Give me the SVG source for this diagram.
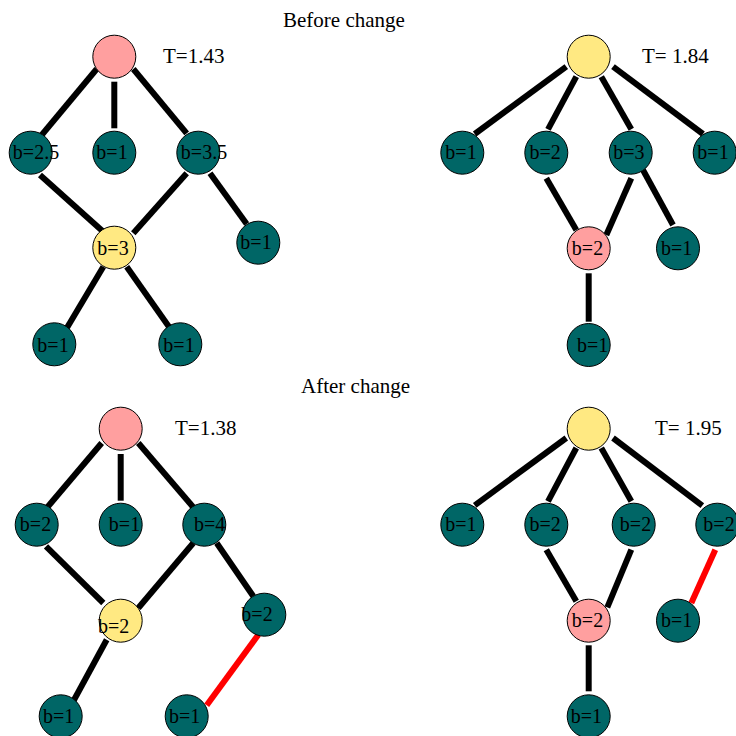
<svg xmlns="http://www.w3.org/2000/svg" width="736" height="736" viewBox="0 0 736 736">
<style>
text{font-family:"Liberation Serif","Times New Roman",serif;fill:#000}
.t{font-size:21px}
.l{font-size:20px;text-anchor:middle}
.n{stroke:#000;stroke-width:1}
.teal{fill:#006666}
.pink{fill:#FF9F9F}
.yel{fill:#FFE982}
.e line{stroke:#000;stroke-width:6}
.e line.r{stroke:#FF0000}
</style>
<rect width="736" height="736" fill="#fff"/>
<text class="t" x="283" y="26.5">Before change</text>
<text class="t" x="301" y="393">After change</text>
<text class="t" x="163" y="62.5">T=1.43</text>
<text class="t" x="642" y="63">T= 1.84</text>
<text class="t" x="175" y="434.5">T=1.38</text>
<text class="t" x="655" y="434.5">T= 1.95</text>
<g id="connectors" class="e">
<line x1="96.7" y1="69" x2="41.7" y2="135"/>
<line x1="114.3" y1="81.7" x2="114.3" y2="128.3"/>
<line x1="133.3" y1="69" x2="186.7" y2="133.3"/>
<line x1="40" y1="175" x2="103.3" y2="231.7"/>
<line x1="186.7" y1="173.3" x2="133.3" y2="233.3"/>
<line x1="210" y1="173.3" x2="246.7" y2="224"/>
<line x1="103.3" y1="266.7" x2="66.7" y2="328.3"/>
<line x1="126.7" y1="266.7" x2="170" y2="328.3"/>
<line x1="566.3" y1="66.7" x2="474.7" y2="134"/>
<line x1="576.3" y1="76.7" x2="548" y2="129.3"/>
<line x1="601.3" y1="76.7" x2="631.3" y2="129.3"/>
<line x1="613" y1="66.7" x2="703" y2="134"/>
<line x1="546.3" y1="178.3" x2="576.3" y2="230"/>
<line x1="631.3" y1="178.3" x2="606.3" y2="235"/>
<line x1="643" y1="170" x2="673" y2="225"/>
<line x1="588.7" y1="273.3" x2="588.7" y2="321.7"/>
<line x1="101.7" y1="443" x2="46.7" y2="508"/>
<line x1="120.7" y1="454" x2="120.7" y2="500.7"/>
<line x1="138.3" y1="443" x2="193.3" y2="507.3"/>
<line x1="46" y1="546.3" x2="103.3" y2="603"/>
<line x1="193.3" y1="543" x2="138.3" y2="608"/>
<line x1="216.7" y1="543" x2="253.3" y2="596.3"/>
<line x1="106.7" y1="639.7" x2="73.3" y2="701.3"/>
<line class="r" x1="258.3" y1="634.7" x2="206.7" y2="705.3"/>
<line x1="566.3" y1="438" x2="474.7" y2="505.3"/>
<line x1="576.3" y1="448" x2="548" y2="501.3"/>
<line x1="601.3" y1="448" x2="631.3" y2="501.3"/>
<line x1="613" y1="438" x2="702.3" y2="505.7"/>
<line x1="546.3" y1="549.7" x2="576.3" y2="601.3"/>
<line x1="631.3" y1="549.7" x2="607.3" y2="607.3"/>
<line class="r" x1="715.3" y1="549.7" x2="691.3" y2="603"/>
<line x1="588.7" y1="645.3" x2="588.7" y2="691.3"/>
</g>
<g id="bl-root"><circle class="n pink" cx="114.3" cy="56.7" r="21.5"/></g>
<g id="bl-a"><circle class="n teal" cx="30.7" cy="152.7" r="21.5"/><text class="l" x="36" y="159.3">b=2.5</text></g>
<g id="bl-b"><circle class="n teal" cx="114.3" cy="152.7" r="21.5"/><text class="l" x="112" y="159.3">b=1</text></g>
<g id="bl-c"><circle class="n teal" cx="198.3" cy="152.7" r="21.5"/><text class="l" x="204" y="159.3">b=3.5</text></g>
<g id="bl-d"><circle class="n yel" cx="114.3" cy="247.7" r="21.5"/><text class="l" x="113" y="255">b=3</text></g>
<g id="bl-e"><circle class="n teal" cx="258.3" cy="242.7" r="21.5"/><text class="l" x="256" y="249.3">b=1</text></g>
<g id="bl-f"><circle class="n teal" cx="54.3" cy="344.3" r="21.5"/><text class="l" x="53" y="351.5">b=1</text></g>
<g id="bl-g"><circle class="n teal" cx="180.3" cy="344.3" r="21.5"/><text class="l" x="179" y="351.5">b=1</text></g>
<g id="br-root"><circle class="n yel" cx="588.7" cy="56.7" r="21.5"/></g>
<g id="br-a"><circle class="n teal" cx="462.3" cy="152.7" r="21.5"/><text class="l" x="461" y="159.3">b=1</text></g>
<g id="br-b"><circle class="n teal" cx="546.3" cy="152.7" r="21.5"/><text class="l" x="545.2" y="159.3">b=2</text></g>
<g id="br-c"><circle class="n teal" cx="630.7" cy="152.7" r="21.5"/><text class="l" x="628.8" y="159.3">b=3</text></g>
<g id="br-d"><circle class="n teal" cx="714.7" cy="152.7" r="21.5"/><text class="l" x="713" y="159.3">b=1</text></g>
<g id="br-e"><circle class="n pink" cx="588.7" cy="248.3" r="21.5"/><text class="l" x="587.5" y="255">b=2</text></g>
<g id="br-f"><circle class="n teal" cx="678" cy="248.3" r="21.5"/><text class="l" x="676.7" y="255">b=1</text></g>
<g id="br-g"><circle class="n teal" cx="588.7" cy="345" r="21.5"/><text class="l" x="592.7" y="351.7">b=1</text></g>
<g id="al-root"><circle class="n pink" cx="120.7" cy="428.7" r="21.5"/></g>
<g id="al-a"><circle class="n teal" cx="36.7" cy="524.7" r="21.5"/><text class="l" x="35.5" y="531.3">b=2</text></g>
<g id="al-b"><circle class="n teal" cx="120.7" cy="524.7" r="21.5"/><text class="l" x="124.5" y="531.3">b=1</text></g>
<g id="al-c"><circle class="n teal" cx="204.3" cy="524.7" r="21.5"/><text class="l" x="209.7" y="531.3">b=4</text></g>
<g id="al-d"><circle class="n yel" cx="120.7" cy="620.7" r="21.5"/><text class="l" x="113.7" y="633">b=2</text></g>
<g id="al-e"><circle class="n teal" cx="264.3" cy="614.7" r="21.5"/><text class="l" x="257" y="620.7">b=2</text></g>
<g id="al-f"><circle class="n teal" cx="60.7" cy="716.3" r="21.5"/><text class="l" x="58.7" y="723">b=1</text></g>
<g id="al-g"><circle class="n teal" cx="186.7" cy="716.3" r="21.5"/><text class="l" x="184.7" y="723">b=1</text></g>
<g id="ar-root"><circle class="n yel" cx="588.7" cy="428.7" r="21.5"/></g>
<g id="ar-a"><circle class="n teal" cx="462.3" cy="524.7" r="21.5"/><text class="l" x="460.8" y="531.3">b=1</text></g>
<g id="ar-b"><circle class="n teal" cx="546.3" cy="524.7" r="21.5"/><text class="l" x="545.2" y="531.3">b=2</text></g>
<g id="ar-c"><circle class="n teal" cx="633.7" cy="524.7" r="21.5"/><text class="l" x="635.5" y="531.3">b=2</text></g>
<g id="ar-d"><circle class="n teal" cx="717.3" cy="524.7" r="21.5"/><text class="l" x="719" y="531.3">b=2</text></g>
<g id="ar-e"><circle class="n pink" cx="588.7" cy="620.7" r="21.5"/><text class="l" x="587.5" y="627.3">b=2</text></g>
<g id="ar-f"><circle class="n teal" cx="678" cy="620.7" r="21.5"/><text class="l" x="676.7" y="627.3">b=1</text></g>
<g id="ar-g"><circle class="n teal" cx="588.7" cy="716.3" r="21.5"/><text class="l" x="586.3" y="723">b=1</text></g>
</svg>
